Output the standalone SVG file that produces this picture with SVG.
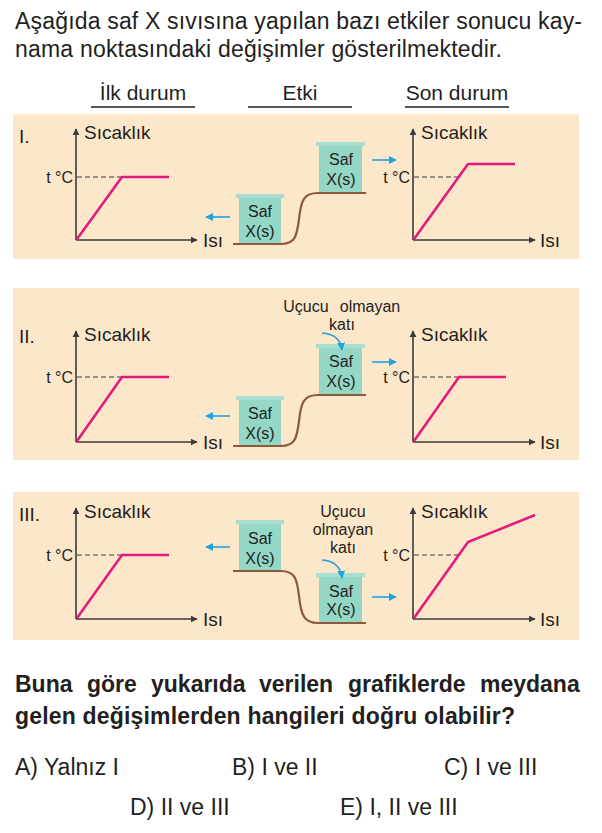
<svg xmlns="http://www.w3.org/2000/svg" width="602" height="833" viewBox="0 0 602 833">
<defs>
<style>
text{font-family:"Liberation Sans",Arial,sans-serif;fill:#231f20}
.t{font-size:23px}
.b{font-size:23px;font-weight:bold}
.h{font-size:21px;text-anchor:middle}
.num{font-size:19px}
.lab{font-size:19px}
.tc{font-size:16px;text-anchor:end}
.bk{font-size:16px;text-anchor:middle}
.note{font-size:16px;text-anchor:middle}
.panel{fill:#fde7ca}
.ax{stroke:#3a3a3a;stroke-width:1.6;fill:none}
.dash{stroke:#3a3a3a;stroke-width:1.2;stroke-dasharray:5 3;fill:none}
.pk{stroke:#e5197e;stroke-width:2.6;fill:none;stroke-linejoin:miter}
.gr{stroke:#8b5a3c;stroke-width:2.2;fill:none}
.bl{stroke:#1fa3dc;stroke-width:1.6;fill:none}
.lid{fill:#a9ded1}
.body{fill:#94d7c7}
.rule{stroke:#231f20;stroke-width:1.3}
</style>
<marker id="ah" viewBox="0 0 10 10" refX="9" refY="5" markerWidth="4.5" markerHeight="4.5" orient="auto" markerUnits="strokeWidth"><path d="M0,0 L10,5 L0,10 Z" fill="#3a3a3a"/></marker>
<marker id="ab" viewBox="0 0 10 10" refX="9" refY="5" markerWidth="5" markerHeight="5" orient="auto" markerUnits="strokeWidth"><path d="M0,0 L10,5 L0,10 Z" fill="#1fa3dc"/></marker>
</defs>

<g id="title">
<text class="t" x="15" y="29" textLength="567" lengthAdjust="spacing">Aşağıda saf X sıvısına yapılan bazı etkiler sonucu kay-</text>
<text class="t" x="15" y="57" textLength="487" lengthAdjust="spacing">nama noktasındaki değişimler gösterilmektedir.</text>
</g>

<g id="headers">
<text class="h" x="143" y="100">İlk durum</text>
<text class="h" x="300" y="100">Etki</text>
<text class="h" x="457" y="100">Son durum</text>
<line class="rule" x1="91" y1="107" x2="195" y2="107"/>
<line class="rule" x1="248" y1="107" x2="352" y2="107"/>
<line class="rule" x1="405" y1="107" x2="509" y2="107"/>
</g>

<!-- Panel I -->
<g id="panel-I">
<rect class="panel" x="13" y="114" width="566" height="145"/>
<text class="num" x="19" y="143">I.</text>
<g id="graph-I-left">
<path class="ax" d="M76,240 V129" marker-end="url(#ah)"/>
<path class="ax" d="M76,240 H197" marker-end="url(#ah)"/>
<text class="lab" x="84" y="139">Sıcaklık</text>
<text class="lab" x="203" y="247">Isı</text>
<text class="tc" x="73" y="183">t °C</text>
<path class="dash" d="M77,177 H122"/>
<path class="pk" d="M77,239 L122,177 H169"/>
</g>
<g id="beaker-I-1">
<rect class="lid" x="236" y="194" width="48" height="4"/>
<rect class="body" x="239" y="198" width="42" height="45"/>
<text class="bk" x="260" y="217">Saf</text>
<text class="bk" x="260" y="237">X(s)</text>
</g>
<g id="beaker-I-2">
<rect class="lid" x="316" y="142" width="49" height="4"/>
<rect class="body" x="319" y="146" width="43" height="46"/>
<text class="bk" x="341" y="165">Saf</text>
<text class="bk" x="341" y="185">X(s)</text>
</g>
<g id="graph-I-right">
<path class="ax" d="M413,240 V129" marker-end="url(#ah)"/>
<path class="ax" d="M413,240 H535" marker-end="url(#ah)"/>
<text class="lab" x="421" y="139">Sıcaklık</text>
<text class="lab" x="540" y="247">Isı</text>
<text class="tc" x="410" y="183">t °C</text>
<path class="dash" d="M414,177 H458"/>
<path class="pk" d="M414,239 L468,164 H515"/>
</g>
</g>

<!-- Panel II -->
<g id="panel-II">
<rect class="panel" x="13" y="288" width="566" height="172"/>
<text class="num" x="19" y="343">II.</text>
<g id="graph-II-left">
<path class="ax" d="M76,442 V331" marker-end="url(#ah)"/>
<path class="ax" d="M76,442 H197" marker-end="url(#ah)"/>
<text class="lab" x="84" y="341">Sıcaklık</text>
<text class="lab" x="203" y="449">Isı</text>
<text class="tc" x="73" y="383">t °C</text>
<path class="dash" d="M77,377 H122"/>
<path class="pk" d="M77,441 L122,377 H169"/>
</g>
<g id="beaker-II-1">
<rect class="lid" x="236" y="396" width="48" height="4"/>
<rect class="body" x="239" y="400" width="42" height="45"/>
<text class="bk" x="260" y="419">Saf</text>
<text class="bk" x="260" y="439">X(s)</text>
</g>
<g id="note-II">
<text class="note" x="306" y="312">Uçucu</text>
<text class="note" x="370" y="312">olmayan</text>
<text class="note" x="342" y="330">katı</text>
</g>
<g id="beaker-II-2">
<rect class="lid" x="316" y="344" width="49" height="4"/>
<rect class="body" x="319" y="348" width="43" height="46"/>
<text class="bk" x="341" y="367">Saf</text>
<text class="bk" x="341" y="387">X(s)</text>
</g>
<g id="graph-II-right">
<path class="ax" d="M413,442 V331" marker-end="url(#ah)"/>
<path class="ax" d="M413,442 H535" marker-end="url(#ah)"/>
<text class="lab" x="421" y="341">Sıcaklık</text>
<text class="lab" x="540" y="449">Isı</text>
<text class="tc" x="410" y="383">t °C</text>
<path class="dash" d="M414,377 H459"/>
<path class="pk" d="M414,441 L459,377 H506"/>
</g>
</g>

<!-- Panel III -->
<g id="panel-III">
<rect class="panel" x="13" y="492" width="566" height="148"/>
<text class="num" x="19" y="521">III.</text>
<g id="graph-III-left">
<path class="ax" d="M76,619 V508" marker-end="url(#ah)"/>
<path class="ax" d="M76,619 H197" marker-end="url(#ah)"/>
<text class="lab" x="84" y="518">Sıcaklık</text>
<text class="lab" x="203" y="626">Isı</text>
<text class="tc" x="73" y="561">t °C</text>
<path class="dash" d="M77,555 H122"/>
<path class="pk" d="M77,618 L122,555 H169"/>
</g>
<g id="beaker-III-1">
<rect class="lid" x="236" y="520" width="48" height="4"/>
<rect class="body" x="239" y="524" width="42" height="46"/>
<text class="bk" x="260" y="544">Saf</text>
<text class="bk" x="260" y="564">X(s)</text>
</g>
<g id="note-III">
<text class="note" x="343" y="517">Uçucu</text>
<text class="note" x="343" y="535">olmayan</text>
<text class="note" x="343" y="553">katı</text>
</g>
<g id="beaker-III-2">
<rect class="lid" x="316" y="573" width="49" height="4"/>
<rect class="body" x="319" y="577" width="43" height="45"/>
<text class="bk" x="341" y="597">Saf</text>
<text class="bk" x="341" y="615">X(s)</text>
</g>
<g id="graph-III-right">
<path class="ax" d="M413,619 V508" marker-end="url(#ah)"/>
<path class="ax" d="M413,619 H535" marker-end="url(#ah)"/>
<text class="lab" x="421" y="518">Sıcaklık</text>
<text class="lab" x="540" y="626">Isı</text>
<text class="tc" x="410" y="561">t °C</text>
<path class="dash" d="M414,555 H458"/>
<path class="pk" d="M414,618 L468,542 L535,515"/>
</g>
</g>

<g id="connectors">
<path class="gr" d="M233,244 H281 C295,244 297,236 299,219 C301,200 304,193 318,193 H366"/>
<path class="gr" d="M233,446 H281 C295,446 297,438 299,421 C301,402 304,395 318,395 H366"/>
<path class="gr" d="M233,571 H281 C295,571 297,579 299,596 C301,615 304,623 318,623 H366"/>
<path class="bl" d="M230,217 H206" marker-end="url(#ab)"/>
<path class="bl" d="M372,160 H396" marker-end="url(#ab)"/>
<path class="bl" d="M230,416 H206" marker-end="url(#ab)"/>
<path class="bl" d="M372,362 H396" marker-end="url(#ab)"/>
<path class="bl" d="M322,333 Q340,334 342,350" marker-end="url(#ab)"/>
<path class="bl" d="M230,547 H206" marker-end="url(#ab)"/>
<path class="bl" d="M372,597 H396" marker-end="url(#ab)"/>
<path class="bl" d="M322,560 Q340,561 342,578" marker-end="url(#ab)"/>
</g>

<g id="question">
<text class="b" y="692"><tspan x="15">Buna</tspan><tspan x="87">göre</tspan><tspan x="151">yukarıda</tspan><tspan x="259">verilen</tspan><tspan x="348">grafiklerde</tspan><tspan x="480">meydana</tspan></text>
<text class="b" x="15" y="724" textLength="500" lengthAdjust="spacing">gelen değişimlerden hangileri doğru olabilir?</text>
</g>
<g id="answers">
<text class="t" x="15" y="775">A) Yalnız I</text>
<text class="t" x="232" y="775">B) I ve II</text>
<text class="t" x="444" y="775">C) I ve III</text>
<text class="t" x="130" y="815">D) II ve III</text>
<text class="t" x="340" y="815">E) I, II ve III</text>
</g>
</svg>
